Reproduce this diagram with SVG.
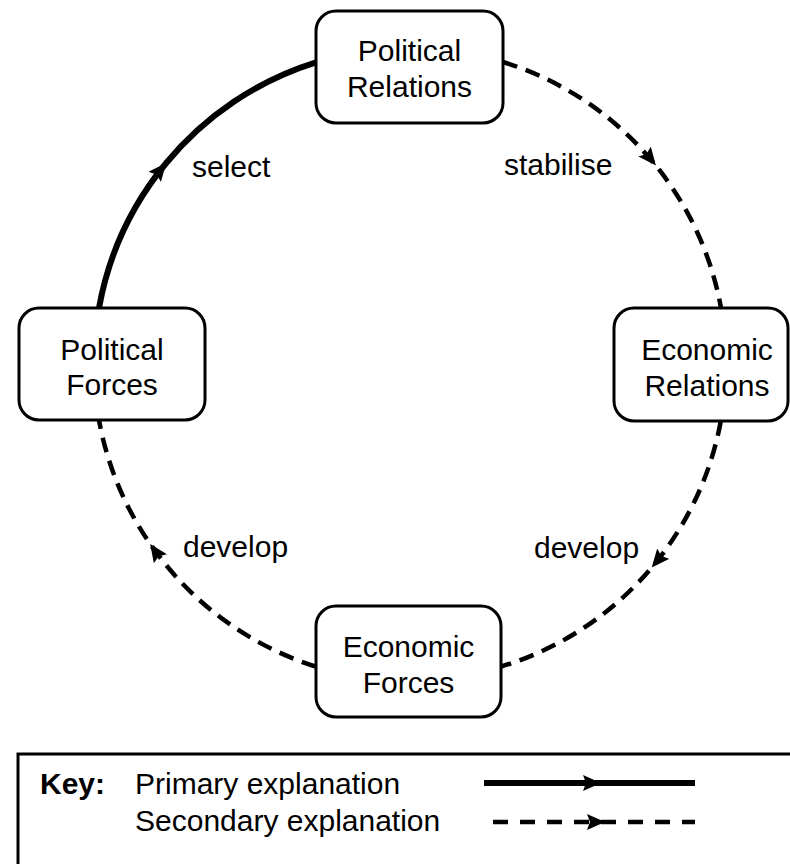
<svg xmlns="http://www.w3.org/2000/svg" width="790" height="864" viewBox="0 0 790 864">
<style>
  .box { fill: #ffffff; stroke: #000000; stroke-width: 3; }
  .lbl { font-family: "Liberation Sans", Arial, sans-serif; font-size: 30px; fill: #000000; text-anchor: middle; }
  .elbl { font-family: "Liberation Sans", Arial, sans-serif; font-size: 30px; fill: #000000; }
  .key { font-family: "Liberation Sans", Arial, sans-serif; font-size: 30px; fill: #000000; }
  .primary { fill: none; stroke: #000000; stroke-width: 6; marker-mid: url(#arrow); }
  .secondary { fill: none; stroke: #000000; stroke-width: 4.5; stroke-dasharray: 15 9; marker-mid: url(#arrow); }
</style>
<defs>
  <marker id="arrow" markerUnits="userSpaceOnUse" viewBox="0 0 18 16" refX="18" refY="8" markerWidth="18" markerHeight="16" orient="auto">
    <path d="M0,0 L18,8 L0,16 L3,8 Z" fill="#000000" stroke="none"/>
  </marker>
</defs>
<rect width="790" height="864" fill="#ffffff"/>
<g id="connectors">
  <path class="primary" d="M99,308 A316,316 0 0 1 166.2,163 A316,316 0 0 1 316,62.3"/>
  <path class="secondary" d="M503,62 A316,316 0 0 1 655.9,165.6 A316,316 0 0 1 721,308"/>
  <path class="secondary" d="M720.8,421 A316,316 0 0 1 651.7,567.5 A316,316 0 0 1 501,666.6"/>
  <path class="secondary" d="M316,666.6 A316,316 0 0 1 150.2,543.9 A316,316 0 0 1 99,420"/>
  <text class="elbl" x="192" y="177">select</text>
  <text class="elbl" x="504" y="175">stabilise</text>
  <text class="elbl" x="534" y="558">develop</text>
  <text class="elbl" x="183" y="557">develop</text>
</g>
<g id="political-relations">
  <rect class="box" x="316" y="11" width="187" height="112" rx="20"/>
  <text class="lbl" x="409.5" y="61">Political</text>
  <text class="lbl" x="409.5" y="97">Relations</text>
</g>
<g id="political-forces">
  <rect class="box" x="19" y="308" width="186" height="112" rx="20"/>
  <text class="lbl" x="112" y="360">Political</text>
  <text class="lbl" x="112" y="395">Forces</text>
</g>
<g id="economic-relations">
  <rect class="box" x="614" y="308" width="174" height="113" rx="20"/>
  <text class="lbl" x="707" y="360">Economic</text>
  <text class="lbl" x="707" y="396">Relations</text>
</g>
<g id="economic-forces">
  <rect class="box" x="316" y="606" width="185" height="111" rx="20"/>
  <text class="lbl" x="408.5" y="657">Economic</text>
  <text class="lbl" x="408.5" y="693">Forces</text>
</g>
<g id="key">
  <rect x="18" y="754" width="800" height="200" fill="none" stroke="#000000" stroke-width="3"/>
  <text class="key" x="40" y="794" font-weight="bold">Key:</text>
  <text class="key" x="135" y="794">Primary explanation</text>
  <text class="key" x="135" y="831">Secondary explanation</text>
  <path d="M484,783 H601 H695" fill="none" stroke="#000000" stroke-width="6" marker-mid="url(#arrow)"/>
  <path d="M493,822 H605 H695" fill="none" stroke="#000000" stroke-width="4.5" stroke-dasharray="15 12" marker-mid="url(#arrow)"/>
</g>
</svg>
